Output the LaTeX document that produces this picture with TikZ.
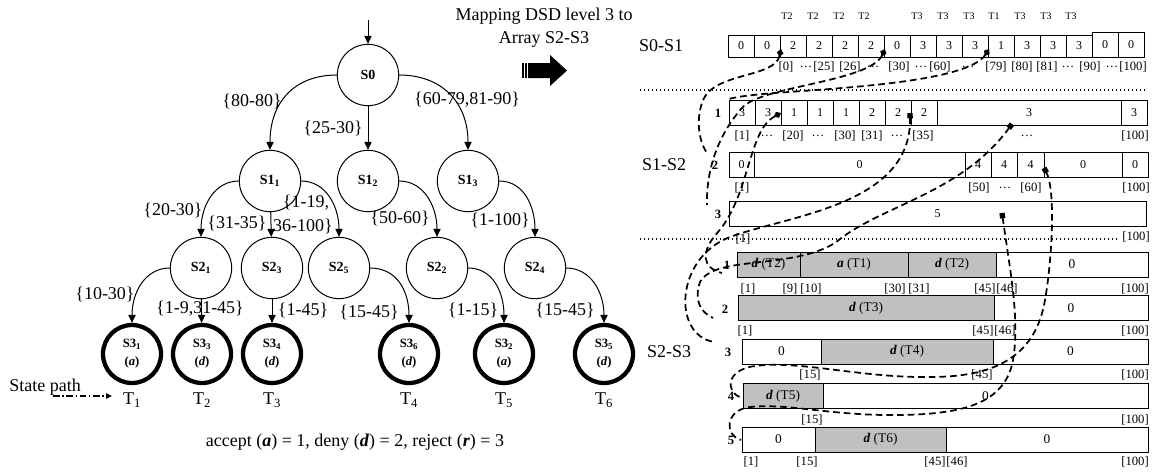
\documentclass[tikz,border=0pt]{standalone}
\usepackage{fontspec}
\setmainfont{Liberation Serif}
\usetikzlibrary{arrows.meta}
\definecolor{shade}{HTML}{C0C0C0}
\newcommand\boldit[1]{\textbf{\textit{#1}}}
\tikzset{
  state/.style={circle,draw,line width=0.75pt,minimum size=46pt,inner sep=0pt,
    font=\fontsize{10.5}{12}\selectfont\bfseries},
  leaf/.style={circle,draw,line width=3.2pt,minimum size=43.5pt,inner sep=0pt,outer sep=1.6pt,
    align=center,font=\fontsize{9.5}{13.5}\selectfont\bfseries},
  edge/.style={-{Triangle[length=6pt,width=5.5pt]},line width=0.75pt},
  lbl/.style={font=\fontsize{13.5}{17}\selectfont,inner sep=0pt},
  cell/.style={draw,line width=0.7pt,inner sep=0pt,outer sep=0pt,minimum height=18.75pt,
    font=\fontsize{9}{10}\selectfont},
  wide/.style={cell,font=\fontsize{10}{11}\selectfont},
  idx/.style={font=\fontsize{9.5}{10}\selectfont,inner sep=0pt},
  tag/.style={font=\fontsize{7.5}{8}\selectfont,inner sep=0pt},
  rowno/.style={font=\fontsize{9.5}{10}\selectfont\bfseries,inner sep=0pt},
  sep/.style={line width=0.9pt,dash pattern=on 0.9pt off 2.1pt},
  maplink/.style={line width=1.3pt,dash pattern=on 5pt off 3pt,
    -{Triangle[length=5.5pt,width=5pt]}},
}
\begin{document}
\begin{tikzpicture}[x=0.75pt,y=-0.75pt]
\useasboundingbox (0,0) rectangle (1156,472);

% decision tree
\coordinate (entry) at (368,20);
\node[state] (s0) at (368,75) {S0};
\node[state] (s11) at (270,181) {S1\textsubscript{1}};
\node[state] (s12) at (368,181) {S1\textsubscript{2}};
\node[state] (s13) at (468,181) {S1\textsubscript{3}};
\node[state] (s21) at (201,268) {S2\textsubscript{1}};
\node[state] (s23) at (272,268) {S2\textsubscript{3}};
\node[state] (s25) at (339,268) {S2\textsubscript{5}};
\node[state] (s22) at (437,268) {S2\textsubscript{2}};
\node[state] (s24) at (535,268) {S2\textsubscript{4}};
\node[leaf] (s31) at (132,354) {S3\textsubscript{1}\\(\textit{a})};
\node[leaf] (s33) at (202,354) {S3\textsubscript{3}\\(\textit{d})};
\node[leaf] (s34) at (272,354) {S3\textsubscript{4}\\(\textit{d})};
\node[leaf] (s36) at (409,354) {S3\textsubscript{6}\\(\textit{d})};
\node[leaf] (s32) at (504,354) {S3\textsubscript{2}\\(\textit{a})};
\node[leaf] (s35) at (604,354) {S3\textsubscript{5}\\(\textit{d})};

\draw[edge] (entry) -- (s0);
\draw[edge] (s0.west) .. controls +(-42,0) and +(0,-48) .. (s11.north);
\draw[edge] (s0) -- (s12);
\draw[edge] (s0.east) .. controls +(42,0) and +(0,-48) .. (s13.north);
\draw[edge] (s11.west) .. controls +(-25,0) and +(0,-30) .. (s21.north);
\draw[edge] (s11) -- (s23);
\draw[edge] (s11.east) .. controls +(25,0) and +(0,-30) .. (s25.north);
\draw[edge] (s12.east) .. controls +(25,0) and +(0,-30) .. (s22.north);
\draw[edge] (s13.east) .. controls +(25,0) and +(0,-30) .. (s24.north);
\draw[edge] (s21.west) .. controls +(-25,0) and +(0,-30) .. (s31.north);
\draw[edge] (s21) -- (s33);
\draw[edge] (s23) -- (s34);
\draw[edge] (s25.east) .. controls +(28,0) and +(0,-30) .. (s36.north);
\draw[edge] (s22.east) .. controls +(25,0) and +(0,-30) .. (s32.north);
\draw[edge] (s24.east) .. controls +(25,0) and +(0,-30) .. (s35.north);

\node[lbl] (e1) at (252,101) {\{80-80\}};
\node[lbl] (e2) at (333,128) {\{25-30\}};
\node[lbl] (e3) at (467,100) {\{60-79,81-90\}};
\node[lbl] (e4) at (173,210) {\{20-30\}};
\node[lbl] (e5) at (237,223) {\{31-35\}};
\node[lbl] (e6) at (306,203) {\{1-19,};
\node[lbl] (e7) at (303,226) {36-100\}};
\node[lbl] (e8) at (400,218) {\{50-60\}};
\node[lbl] (e9) at (500,220) {\{1-100\}};
\node[lbl] (e10) at (105,294) {\{10-30\}};
\node[lbl] (e11) at (200,309) {\{1-9,31-45\}};
\node[lbl] (e12) at (303,310) {\{1-45\}};
\node[lbl] (e13) at (369,312) {\{15-45\}};
\node[lbl] (e14) at (473,310) {\{1-15\}};
\node[lbl] (e15) at (565,310) {\{15-45\}};

\foreach \x/\n in {132/1,202/2,272/3,409/4,504/5,604/6}
  \node[lbl] (t\n) at (\x,400) {T\textsubscript{\n}};

\node[lbl] (spath) at (45,387) {State path};
\coordinate (spa) at (53,396);
\coordinate (spb) at (112,396);
\draw[line width=1pt,dash pattern=on 5pt off 2pt on 1pt off 2pt,
  -{Triangle[length=4.5pt,width=4pt]}] (spa) -- (spb);

\node[lbl] (legend) at (355,442)
  {accept (\boldit{a}) = 1, deny (\boldit{d}) = 2, reject (\boldit{r}) = 3};

% mapping header and block arrow
\node[lbl,align=center] (head) at (544,28) {Mapping DSD level 3 to\\Array S2-S3};
\fill (522,63) rectangle (523.5,78);
\fill (525,63) rectangle (526.5,78);
\fill (528,63) -- (550,63) -- (550,55) -- (567,70.5) -- (550,86) -- (550,78) -- (528,78) -- cycle;

% S0-S1 array
\node[lbl] (lab01) at (661,46) {S0-S1};
\foreach \v [count=\i] in {0,0,2,2,2,2,0,3,3,3,1,3,3,3}
  \node[cell,minimum width=19.5pt,minimum height=16.5pt] (a0c\i) at ({741+26*(\i-1)},46) {\v};
\foreach \v [count=\i from 15] in {0,0}
  \node[cell,minimum width=19.5pt,minimum height=18.75pt] (a0c\i) at ({741+26*(\i-1)},44.5) {\v};
\foreach \x/\t in {787/T2,813/T2,839/T2,864/T2,917/T3,943/T3,969/T3,994/T1,1020/T3,1046/T3,1071/T3}
  \node[tag] at (\x,16) {\t};
\foreach \x/\t in {786/[0],806/\ldots,824/[25],850/[26],873/\ldots,899/[30],921/\ldots,940/[60],968/\ldots,
    996/[79],1022/[80],1047/[81],1068/\ldots,1090/[90],1112/\ldots,1133/[100]}
  \node[idx] at (\x,67) {\t};
\draw[sep] (640,90) -- (1145,90);

% S1-S2 arrays
\node[lbl] (lab12) at (664,165) {S1-S2};
\node[rowno] (n11) at (718,113) {1};
\node[rowno] (n12) at (715,165) {2};
\node[rowno] (n13) at (718,214) {3};
\foreach \a/\b/\v [count=\i] in {729/755/3,755/781/3,781/807/1,807/833/1,833/859/1,
    859/885/2,885/911/2,911/937/2,937/1121/3,1121/1147/3}
  \node[cell,minimum width={(\b-\a)*0.75pt}] (a1c\i) at ({(\a+\b)/2},112.5) {\v};
\foreach \a/\b/\v [count=\i] in {729/754/0,754/965/0,965/991/4,991/1017/4,1017/1044/4,
    1044/1122/0,1122/1148/0}
  \node[cell,minimum width={(\b-\a)*0.75pt}] (a2c\i) at ({(\a+\b)/2},164.5) {\v};
\node[cell,minimum width=312.75pt] (a3c1) at (937.5,213.5) {5};
\foreach \x/\t in {742/[1],767/\ldots,793/[20],818/\ldots,845/[30],872/[31],897/\ldots,923/[35],1027/\ldots,1135/[100]}
  \node[idx] at (\x,136) {\t};
\foreach \x/\t in {742/[1],979/[50],1005/\ldots,1031/[60],1136/[100]}
  \node[idx] at (\x,188) {\t};
\node[idx] at (743,239) {[1]};
\node[idx] at (1136,237) {[100]};
\draw[sep] (640,239) -- (1119,239);

% S2-S3 arrays
\node[lbl] (lab23) at (669,352) {S2-S3};
\foreach \x/\y/\n in {727/265/1,725/309/2,728/352/3,731/396/4,731/440/5}
  \node[rowno] (n2\n) at (\x,\y) {\n};
\foreach \a/\b/\v/\f [count=\i] in {737/800/{\boldit{d} (T2)}/shade,800/908/{\boldit{a} (T1)}/shade,
    908/996/{\boldit{d} (T2)}/shade,996/1148/0/white}
  \node[wide,fill=\f,minimum width={(\b-\a)*0.75pt}] (b1c\i) at ({(\a+\b)/2},264.5) {\v};
\foreach \a/\b/\v/\f [count=\i] in {738/994/{\boldit{d} (T3)}/shade,994/1148/0/white}
  \node[wide,fill=\f,minimum width={(\b-\a)*0.75pt}] (b2c\i) at ({(\a+\b)/2},308) {\v};
\foreach \a/\b/\v/\f [count=\i] in {742/821/0/white,821/993/{\boldit{d} (T4)}/shade,993/1148/0/white}
  \node[wide,fill=\f,minimum width={(\b-\a)*0.75pt}] (b3c\i) at ({(\a+\b)/2},351.5) {\v};
\foreach \a/\b/\v/\f [count=\i] in {743/823/{\boldit{d} (T5)}/shade,823/1148/0/white}
  \node[wide,fill=\f,minimum width={(\b-\a)*0.75pt}] (b4c\i) at ({(\a+\b)/2},396) {\v};
\foreach \a/\b/\v/\f [count=\i] in {742/815/0/white,815/946/{\boldit{d} (T6)}/shade,946/1148/0/white}
  \node[wide,fill=\f,minimum width={(\b-\a)*0.75pt}] (b5c\i) at ({(\a+\b)/2},439.5) {\v};
\foreach \x/\t in {748/[1],790/[9],811/[10],895/[30],919/[31],985/[45],1007/[46],1135/[100]}
  \node[idx] at (\x,289) {\t};
\foreach \x/\t in {745/[1],983/[45],1005/[46],1135/[100]}
  \node[idx] at (\x,331) {\t};
\foreach \x/\t in {810/[15],982/[45],1135/[100]}
  \node[idx] at (\x,375) {\t};
\foreach \x/\t in {812/[15],1135/[100]}
  \node[idx] at (\x,420) {\t};
\foreach \x/\t in {751/[1],807/[15],935/[45],957/[46],1135/[100]}
  \node[idx] at (\x,462) {\t};

% mapping links
\coordinate (m0a) at (781,49);
\coordinate (m0b) at (885,49);
\coordinate (m0c) at (989,49);
\coordinate (m1a) at (781,113);
\coordinate (m1b) at (910,113);
\coordinate (m1c) at (1012,124);
\coordinate (m2a) at (1044,168);
\coordinate (m3a) at (1002,213);
\coordinate (in11) at (729,99);
\coordinate (in12) at (707,153);
\coordinate (in13) at (707,205);
\coordinate (in21) at (722,273);
\coordinate (in22) at (713,318);
\coordinate (in23) at (714,342);
\coordinate (in24) at (740,397);
\coordinate (in25) at (741,440);
\draw[maplink,{Diamond[length=6pt,width=5pt]}-] (m0a) .. controls (775,78) and (715,72) .. (703,100)
  .. controls (696,118) and (698,140) .. (in12);
\draw[maplink,{Diamond[length=6pt,width=5pt]}-] (m0b) .. controls (870,82) and (760,86) .. (742,108)
  .. controls (718,135) and (706,170) .. (in13);
\draw[maplink,{Diamond[length=6pt,width=5pt]}-] (m0c) .. controls (968,82) and (840,88) .. (775,93)
  .. controls (752,95) and (740,96) .. (in11);
\draw[maplink,{Diamond[length=6pt,width=5pt]}-] (m1a) .. controls (748,130) and (750,195) .. (718,232)
  .. controls (700,252) and (702,268) .. (in21);
\draw[maplink,{Square[length=4pt,width=4pt]}-] (m1b) .. controls (912,205) and (790,215) .. (730,237)
  .. controls (675,258) and (672,335) .. (in23);
\draw[maplink,{Square[length=4pt,width=4pt]}-] (m1c) .. controls (960,195) and (880,205) .. (835,243)
  .. controls (790,270) and (715,255) .. (700,282) .. controls (694,300) and (700,312) .. (in22);
\draw[maplink,{Square[length=4pt,width=4pt]}-] (m2a) .. controls (1056,190) and (1052,260) .. (1045,300)
  .. controls (1035,360) and (990,377) .. (930,377) .. controls (860,378) and (800,360) .. (755,366)
  .. controls (725,370) and (726,392) .. (in24);
\draw[maplink,{Square[length=4pt,width=4pt]}-] (m3a) .. controls (1010,270) and (1020,320) .. (1013,360)
  .. controls (1005,405) and (960,414) .. (900,415) .. controls (830,416) and (790,403) .. (750,407)
  .. controls (725,410) and (724,435) .. (in25);
\end{tikzpicture}
\end{document}
